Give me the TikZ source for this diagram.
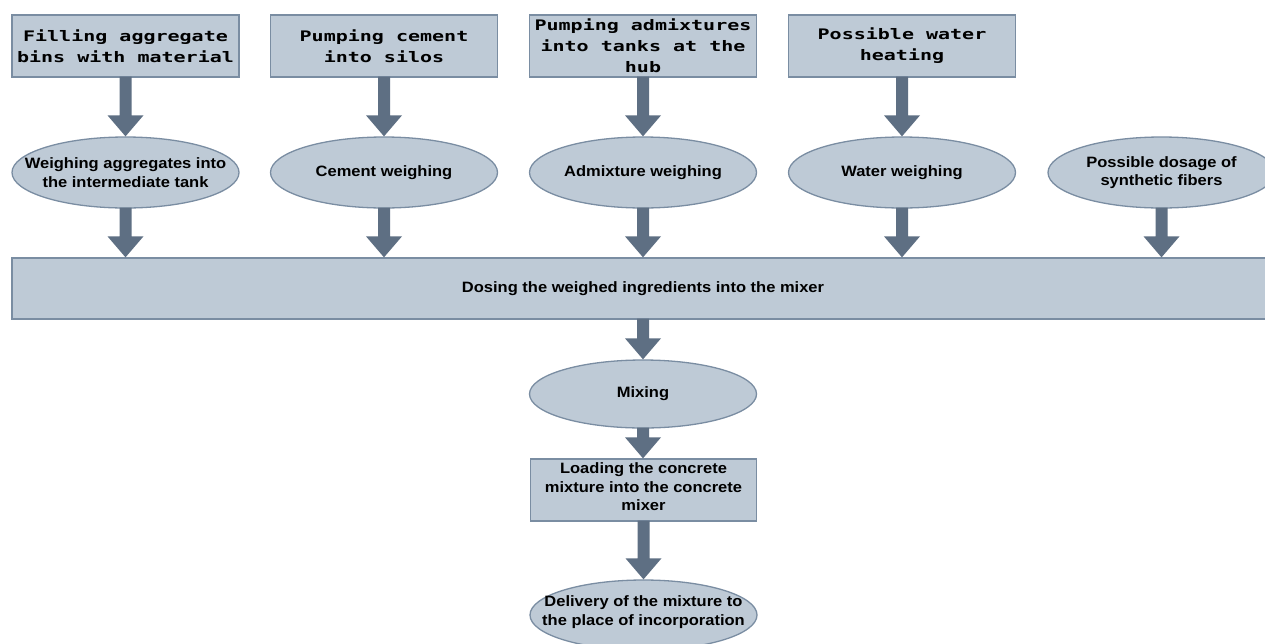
\documentclass[tikz,border=0pt]{standalone}
\usepackage{fontspec}
\usetikzlibrary{shapes.geometric,calc}
\newfontfamily\monof[FakeStretch=1.38]{DejaVu Sans Mono}
\newfontfamily\sansb[FakeStretch=1.1]{Liberation Sans}
\definecolor{fillcol}{RGB}{190,202,214}
\definecolor{bordercol}{RGB}{122,141,162}
\definecolor{arrowcol}{RGB}{94,111,131}
\tikzset{
  box/.style={draw=bordercol, line width=1.3pt, fill=fillcol, minimum width=227pt, minimum height=62pt, inner sep=0pt, align=center},
  monotext/.style={align=center, inner sep=0pt, font=\monof\bfseries\fontsize{14.5}{21}\selectfont},
  oval/.style={ellipse, draw=bordercol, line width=1.3pt, fill=fillcol, minimum width=227pt, minimum height=71pt, inner sep=0pt},
  otext/.style={align=center, inner sep=0pt, font=\sansb\bfseries\fontsize{15}{18.5}\selectfont},
}
\newcommand\blockarr[2]{%
  \fill[arrowcol] ($(#1.south)+(-6,-1)$) -- ($(#1.south |- #2.north)+(-6,-21)$) -- ($(#1.south |- #2.north)+(-18,-21)$) -- (#1.south |- #2.north) -- ($(#1.south |- #2.north)+(18,-21)$) -- ($(#1.south |- #2.north)+(6,-21)$) -- ($(#1.south)+(6,-1)$) -- cycle;}
\begin{document}
\begin{tikzpicture}[x=1pt,y=-1pt]
\useasboundingbox[fill=white] (0,0) rectangle (1265,643);
% top boxes
\node[box] (b1) at (125.5,46) {};
\node[monotext] (bt1) at (b1) {Filling aggregate\\bins with material};
\node[box] (b2) at (384,46) {};
\node[monotext] (bt2) at (b2) {Pumping cement\\into silos};
\node[box] (b3) at (643,46) {};
\node[monotext] (bt3) at (b3) {Pumping admixtures\\into tanks at the\\hub};
\node[box] (b4) at (902,46) {};
\node[monotext] (bt4) at (b4) {Possible water\\heating};
% ellipses
\node[oval] (e1) at (125.5,172.5) {};
\node[otext] (et1) at (e1) {Weighing aggregates into\\the intermediate tank};
\node[oval] (e2) at (384,172.5) {};
\node[otext] (et2) at (e2) {Cement weighing};
\node[oval] (e3) at (643,172.5) {};
\node[otext] (et3) at (e3) {Admixture weighing};
\node[oval] (e4) at (902,172.5) {};
\node[otext] (et4) at (e4) {Water weighing};
\node[oval] (e5) at (1161.5,172.5) {};
\node[otext] (et5) at (e5) {Possible dosage of\\synthetic fibers};
% bar
\node[box, minimum width=1262pt, minimum height=61pt] (dose) at (643,288.5) {};
\node[otext] (dt) at (dose) {Dosing the weighed ingredients into the mixer};
% lower chain
\node[oval, minimum height=68pt] (mix) at (643,394) {};
\node[otext] (mt) at (mix) {Mixing};
\node[box, minimum width=226pt] (load) at (643.5,490) {};
\node[otext] (lt) at (643.5,487) {Loading the concrete\\mixture into the concrete\\mixer};
\node[oval, minimum height=70pt] (del) at (643.5,615) {};
\node[otext] (delt) at (643.5,612) {Delivery of the mixture to\\the place of incorporation};
% arrows
\blockarr{b1}{e1}
\blockarr{b2}{e2}
\blockarr{b3}{e3}
\blockarr{b4}{e4}
\blockarr{e1}{dose}
\blockarr{e2}{dose}
\blockarr{e3}{dose}
\blockarr{e4}{dose}
\blockarr{e5}{dose}
\blockarr{dose}{mix}
\blockarr{mix}{load}
\blockarr{load}{del}
\end{tikzpicture}
\end{document}
